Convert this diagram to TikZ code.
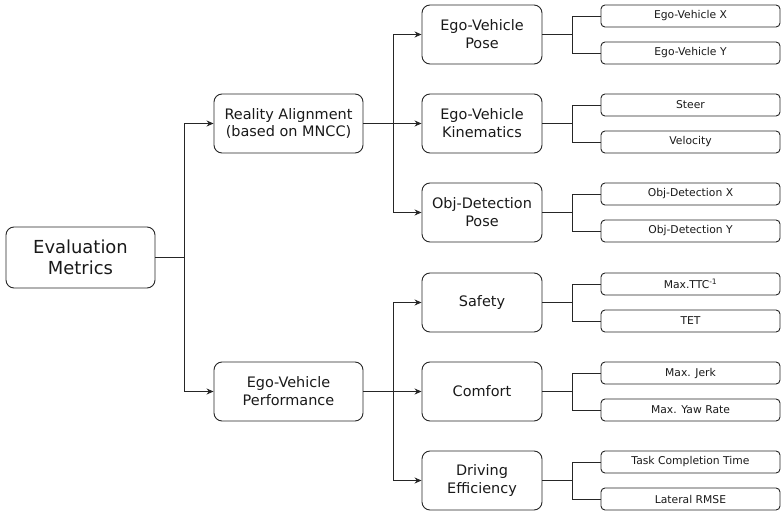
\documentclass[tikz,border=0pt]{standalone}
\usepackage{fontspec}
\setmainfont{DejaVu Sans}
\usetikzlibrary{arrows.meta}
\begin{document}
\begin{tikzpicture}[x=1bp,y=-1bp,
  every node/.style={text=black!90},
  box/.style={draw=black!85,line width=0.9bp,rounded corners=8bp,align=center,inner sep=0pt},
  rootbox/.style={box,minimum width=149bp,minimum height=61bp,font=\fontsize{18}{21}\selectfont},
  lvlone/.style={box,minimum width=149bp,minimum height=59bp,font=\fontsize{14.5}{18}\selectfont},
  lvltwo/.style={box,minimum width=120bp,minimum height=59bp,font=\fontsize{14.5}{18}\selectfont},
  leaf/.style={box,rounded corners=4bp,minimum width=179bp,minimum height=22bp,font=\fontsize{10.8}{12}\selectfont},
  conn/.style={draw=black!85,line width=0.9bp},
  arr/.style={conn,-{Stealth[length=7bp,width=6bp]}}
]
\useasboundingbox (0,0) rectangle (784,515);

\node[rootbox] (root) at (80.5,257.5) {Evaluation\\Metrics};

\node[lvlone] (ra) at (288.5,123.5) {Reality Alignment\\(based on MNCC)};
\node[lvlone] (evp) at (288.5,391.5) {Ego-Vehicle\\Performance};

\node[lvltwo] (pose) at (482,34.5) {Ego-Vehicle\\Pose};
\node[lvltwo] (kin) at (482,123.5) {Ego-Vehicle\\Kinematics};
\node[lvltwo] (obj) at (482,212.5) {Obj-Detection\\Pose};
\node[lvltwo] (safe) at (482,302.5) {Safety};
\node[lvltwo] (comf) at (482,391.5) {Comfort};
\node[lvltwo] (eff) at (482,480.5) {Driving\\Efficiency};

\node[leaf] (px) at (690.5,16) {Ego-Vehicle X};
\node[leaf] (py) at (690.5,53) {Ego-Vehicle Y};
\node[leaf] (ks) at (690.5,105) {Steer};
\node[leaf] (kv) at (690.5,142) {Velocity};
\node[leaf] (ox) at (690.5,194) {Obj-Detection X};
\node[leaf] (oy) at (690.5,231) {Obj-Detection Y};
\node[leaf] (sm) at (690.5,284) {Max.TTC\textsuperscript{-1}};
\node[leaf] (st) at (690.5,321) {TET};
\node[leaf] (cj) at (690.5,373) {Max. Jerk};
\node[leaf] (cy) at (690.5,410) {Max. Yaw Rate};
\node[leaf] (et) at (690.5,462) {Task Completion Time};
\node[leaf] (el) at (690.5,499) {Lateral RMSE};

% root to level one
\coordinate (j0) at (184,257.5);
\draw[conn] (root.east) -- (j0);
\draw[arr] (j0) |- (ra.west);
\draw[arr] (j0) |- (evp.west);

% level one to level two
\coordinate (j1) at (393,123.5);
\draw[conn] (ra.east) -- (j1);
\draw[arr] (j1) |- (pose.west);
\draw[arr] (j1) -- (kin.west);
\draw[arr] (j1) |- (obj.west);

\coordinate (j2) at (393,391.5);
\draw[conn] (evp.east) -- (j2);
\draw[arr] (j2) |- (safe.west);
\draw[arr] (j2) -- (comf.west);
\draw[arr] (j2) |- (eff.west);

% level two to leaves
\foreach \p/\a/\b in {pose/px/py,kin/ks/kv,obj/ox/oy,safe/sm/st,comf/cj/cy,eff/et/el}{
  \coordinate (\p j) at (572,0 |- \p.east);
  \draw[conn] (\p.east) -- (\p j) |- (\a.west);
  \draw[conn] (\p j) |- (\b.west);
}
\end{tikzpicture}
\end{document}
